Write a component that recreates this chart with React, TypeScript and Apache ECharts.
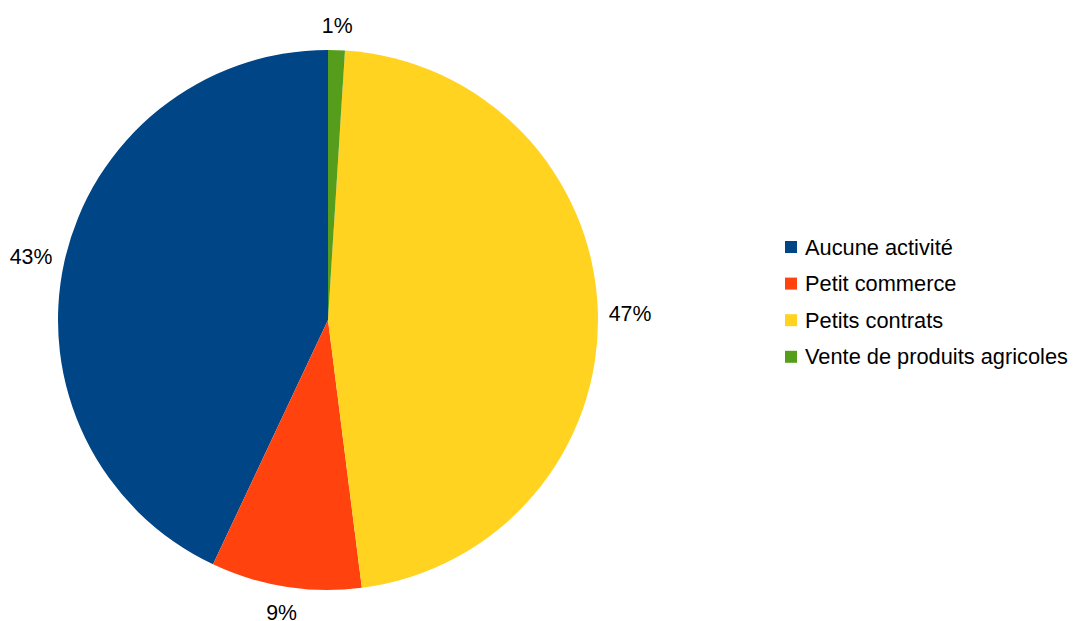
import React, { useEffect, useRef } from "react";
import * as echarts from "echarts";

const categories = ["Aucune activité", "Petit commerce", "Petits contrats", "Vente de produits agricoles"];
const values = [43, 9, 47, 1];
const colors = ["#004586", "#ff420e", "#ffd320", "#579d1c"];

const CX = 328;
const CY = 320;
const R = 270;
const GAP = 10.5;

export default function App() {
  const ref = useRef<HTMLDivElement>(null);
  useEffect(() => {
    document.body.style.margin = "0";
    const chart = echarts.init(ref.current!, undefined, { renderer: "svg" });
    const total = values.reduce((a, b) => a + b, 0);
    const option = {
      animation: false,
      backgroundColor: "#ffffff",
      legend: {
        orient: "vertical",
        left: 785,
        top: 236,
        padding: 0,
        icon: "rect",
        itemWidth: 12,
        itemHeight: 12,
        itemGap: 14.6,
        selectedMode: false,
        data: categories,
        textStyle: {
          fontFamily: "Liberation Sans",
          fontSize: 21.8,
          lineHeight: 21,
          color: "#000000",
          padding: [0, 0, 0, 3],
        },
      },
      series: [
        {
          type: "pie",
          center: [CX, CY],
          radius: [0, R],
          startAngle: 90,
          clockwise: false,
          avoidLabelOverlap: false,
          itemStyle: { borderWidth: 0 },
          emphasis: { disabled: true },
          label: {
            show: true,
            position: "outside",
            formatter: (p: any) => `${Math.round(p.percent)}%`,
            fontFamily: "Liberation Sans",
            fontSize: 21.3,
            lineHeight: 20,
            color: "#000000",
          },
          labelLine: { show: false, length: 12, length2: 0 },
          labelLayout: (params: any) => {
            const i = params.dataIndex;
            let cum = 0;
            for (let k = 0; k < i; k++) cum += values[k];
            const mid = ((cum + values[i] / 2) / total) * Math.PI * 2;
            const dx = -Math.sin(mid);
            const dy = -Math.cos(mid);
            const w = params.labelRect.width;
            const h = params.labelRect.height;
            const off = R + GAP + Math.abs(dx) * w / 2 + Math.abs(dy) * (h / 2 + 3);
            return {
              x: CX + dx * off,
              y: CY + dy * off + 3 * Math.abs(dx),
              align: "center",
              verticalAlign: "middle",
            };
          },
          data: categories.map((name, i) => ({
            name,
            value: values[i],
            itemStyle: { color: colors[i] },
          })),
        },
      ],
    };
    chart.setOption(option as any);
    return () => chart.dispose();
  }, []);
  return <div ref={ref} style={{ width: 1077, height: 621 }} />;
}
